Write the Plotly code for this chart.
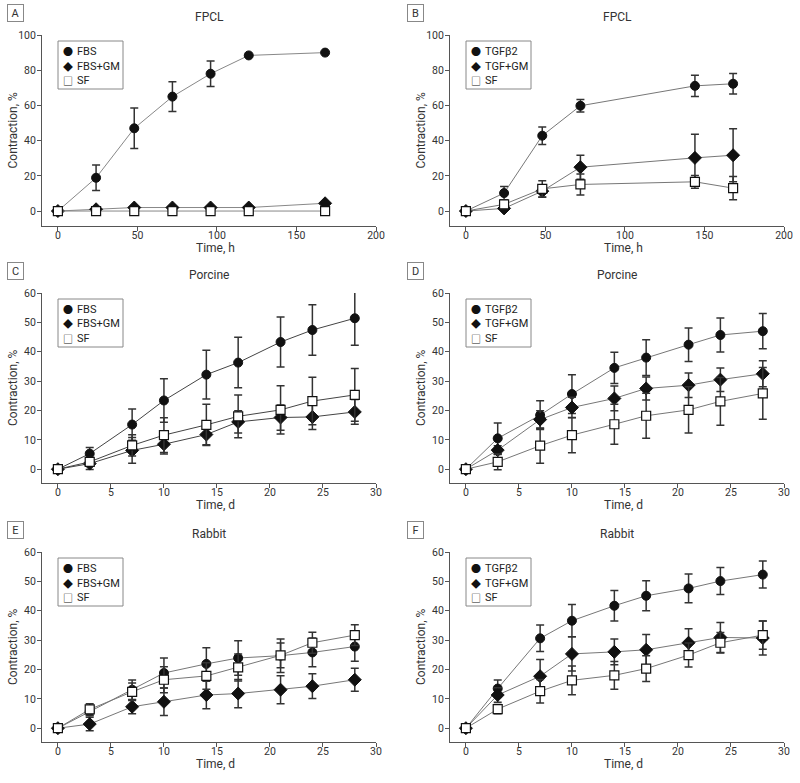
import plotly.graph_objects as go

FONT = "Roboto, Liberation Sans, DejaVu Sans, sans-serif"
GLYPH_FONT = "Noto Sans CJK JP, DejaVu Sans, sans-serif"

# ---------------- data ----------------
hours_A = [0, 24, 48, 72, 96, 120, 168]
A_fbs = [0, 18.9, 47, 65, 78, 88.4, 90]
A_fbs_err = [0, 7.3, 11.5, 8.5, 7.3, 0, 0]
A_fbsgm = [0, 1, 2, 2, 2, 2, 4.4]
A_sf = [0, 0, 0, 0, 0, 0, 0]

hours_B = [0, 24, 48, 72, 144, 168]
B_tgf = [0, 10.2, 42.8, 59.8, 71.1, 72.3]
B_tgf_err = [0, 3.8, 5, 3.5, 6, 5.8]
B_tgfgm = [0, 1.5, 11.3, 24.9, 30.2, 31.7]
B_tgfgm_err = [1.5, 1, 3.4, 6.8, 13.4, 15.1]
B_sf = [0, 3.8, 12.6, 15.1, 16.6, 13]
B_sf_err = [0, 2.5, 4.6, 6, 3.6, 6.6]

days = [0, 3, 7, 10, 14, 17, 21, 24, 28]

C_fbs = [0, 5.3, 15.2, 23.4, 32.2, 36.3, 43.3, 47.4, 51.4]
C_fbs_err = [1, 2.1, 5.3, 7.4, 8.3, 8.6, 8.5, 8.6, 9.2]
C_fbsgm = [0, 1.9, 6.4, 8.5, 11.8, 16.1, 17.6, 17.8, 19.5]
C_fbsgm_err = [0, 2, 4.4, 3.3, 3.5, 3.8, 4.3, 4.3, 4.2]
C_sf = [0, 2.5, 8.1, 11.6, 15.1, 18, 20.2, 23.2, 25.3]
C_sf_err = [0, 1.5, 3.6, 5.9, 7, 7.3, 8.2, 8.1, 9]

D_tgf = [0, 10.5, 18.4, 25.6, 34.5, 38, 42.4, 45.7, 47]
D_tgf_err = [0, 5.2, 4.9, 6.6, 5.3, 6.1, 5.7, 5.8, 6]
D_tgfgm = [0, 6.5, 16.9, 21, 24.1, 27.5, 28.6, 30.5, 32.5]
D_tgfgm_err = [0, 1.5, 3, 3.5, 4.2, 3.9, 4.2, 4, 4.4]
D_sf = [0, 2.5, 8, 11.6, 15.3, 18.2, 20.2, 23.1, 25.8]
D_sf_err = [1, 2.7, 6, 6, 6.8, 7.7, 7.9, 8.1, 8.8]

E_fbs = [0, 5.7, 13.1, 18.8, 21.9, 23.9, 24.7, 25.8, 27.8]
E_fbs_err = [0, 1.5, 3.3, 5.1, 5.5, 5.9, 5.7, 4.9, 5]
E_fbsgm = [0, 1.4, 7.3, 9, 11.3, 11.8, 13.1, 14.3, 16.5]
E_fbsgm_err = [0, 2.3, 2.4, 4.7, 4.7, 4.8, 4.8, 4.2, 3.9]
E_sf = [0, 6.4, 12.4, 16.5, 17.8, 20.7, 24.8, 29.1, 31.7]
E_sf_err = [1, 1.9, 3, 4.4, 4.5, 4.6, 4.2, 3.6, 3.5]

F_tgf = [0, 13.5, 30.6, 36.6, 41.7, 45.1, 47.6, 50.1, 52.3]
F_tgf_err = [0, 2.9, 4.5, 5.5, 5.2, 5.1, 4.9, 4.6, 4.6]
F_tgfgm = [0, 11.3, 17.7, 25.3, 26, 26.7, 29.1, 30.9, 30.7]
F_tgfgm_err = [0, 2.5, 5.7, 5.8, 4.4, 5.2, 4.8, 5.1, 5.8]
F_sf = [0, 6.5, 12.6, 16.3, 18, 20.3, 24.9, 29.1, 31.7]
F_sf_err = [1, 1.6, 4, 4.9, 4.7, 4.4, 4.1, 3.5, 4.8]

fbs_names = ["FBS", "FBS+GM", "SF"]
tgf_names = ["TGFβ2", "TGF+GM", "SF"]
panel_letters = ["A", "B", "C", "D", "E", "F"]
panel_titles = ["FPCL", "FPCL", "Porcine", "Porcine", "Rabbit", "Rabbit"]
x_titles = ["Time, h", "Time, h", "Time, d", "Time, d", "Time, d", "Time, d"]
y_title = "Contraction, %"

panels = [
    (hours_A, [(A_fbs, A_fbs_err), (A_fbsgm, None), (A_sf, None)], fbs_names),
    (hours_B, [(B_tgf, B_tgf_err), (B_tgfgm, B_tgfgm_err), (B_sf, B_sf_err)], tgf_names),
    (days, [(C_fbs, C_fbs_err), (C_fbsgm, C_fbsgm_err), (C_sf, C_sf_err)], fbs_names),
    (days, [(D_tgf, D_tgf_err), (D_tgfgm, D_tgfgm_err), (D_sf, D_sf_err)], tgf_names),
    (days, [(E_fbs, E_fbs_err), (E_fbsgm, E_fbsgm_err), (E_sf, E_sf_err)], fbs_names),
    (days, [(F_tgf, F_tgf_err), (F_tgfgm, F_tgfgm_err), (F_sf, F_sf_err)], tgf_names),
]

# ---------------- styles ----------------
W, H = 800, 783
markers = [
    dict(symbol="circle", size=9, color="#111111", line=dict(color="#111111", width=1)),
    dict(symbol="diamond", size=10, color="#111111", line=dict(color="#111111", width=1)),
    dict(symbol="square", size=9, color="white", line=dict(color="#111111", width=1.2)),
]
legend_glyphs = ["●", "◆", "□"]
line_colors = ["#888888", "#777777", "#444444", "#777777", "#777777", "#777777"]
AX_COLOR = "#555555"
TXT = "#333333"

col_px = [(42, 376), (450, 784)]
row_px = [(35, 226), (293, 483), (552, 742)]  # (top, bottom)
x_ranges = [[-10, 200], [-10, 200]] + [[-1.5, 30]] * 4
y_ranges = [[-8.5, 100], [-8.5, 100]] + [[-4.7, 60]] * 4
x_dticks = [50, 50, 5, 5, 5, 5]
y_dticks = [20, 20, 10, 10, 10, 10]

fig = go.Figure()
layout = dict(
    width=W, height=H,
    margin=dict(l=0, r=0, t=0, b=0, autoexpand=False),
    paper_bgcolor="white", plot_bgcolor="white",
    font=dict(family=FONT, size=11, color=TXT),
    showlegend=False,
)
annotations = []
shapes = []


def px(xp, yp):
    return xp / W, 1 - yp / H


for i, (xs, series, names) in enumerate(panels):
    r, c = divmod(i, 2)
    left, right = col_px[c]
    top, bottom = row_px[r]
    xa = "xaxis" if i == 0 else f"xaxis{i+1}"
    ya = "yaxis" if i == 0 else f"yaxis{i+1}"
    xr = "x" if i == 0 else f"x{i+1}"
    yr = "y" if i == 0 else f"y{i+1}"

    layout[xa] = dict(
        domain=[left / W, right / W], anchor=yr, range=x_ranges[i],
        tick0=0, dtick=x_dticks[i], showgrid=False, zeroline=False,
        showline=True, linecolor=AX_COLOR, linewidth=1,
        ticks="outside", ticklen=4, tickcolor=AX_COLOR, tickwidth=1,
        ticklabelstandoff=-5,
        tickfont=dict(size=10.5, color=TXT), fixedrange=True,
    )
    layout[ya] = dict(
        domain=[1 - bottom / H, 1 - top / H], anchor=xr, range=y_ranges[i],
        tick0=0, dtick=y_dticks[i], showgrid=False, zeroline=False,
        showline=True, linecolor=AX_COLOR, linewidth=1,
        ticks="outside", ticklen=4, tickcolor=AX_COLOR, tickwidth=1,
        ticklabelstandoff=-1,
        tickfont=dict(size=10.5, color=TXT), fixedrange=True,
    )

    for k, (ys, err) in enumerate(series):
        tr = dict(
            x=xs, y=ys, mode="lines+markers", xaxis=xr, yaxis=yr, name=names[k],
            line=dict(color=line_colors[i], width=1), marker=markers[k],
            showlegend=False, hoverinfo="x+y+name", cliponaxis=False,
        )
        if err is not None:
            tr["error_y"] = dict(type="data", array=err, visible=True,
                                 color="#333333", thickness=1.5, width=4)
        fig.add_trace(go.Scatter(**tr))

    # axis titles
    ax, ay = px((left + right) / 2 + 6, bottom + 22)
    annotations.append(dict(
        text=x_titles[i], xref="paper", yref="paper", x=ax, y=ay,
        xanchor="center", yanchor="middle", showarrow=False,
        font=dict(size=12, color=TXT),
    ))
    ax, ay = px(left - 29, (top + bottom) / 2)
    annotations.append(dict(
        text=y_title, xref="paper", yref="paper", x=ax, y=ay,
        xanchor="center", yanchor="middle", showarrow=False, textangle=-90,
        font=dict(size=12, color=TXT),
    ))

    # legend box (symbol key)
    x0, y0 = px(left + 16, top + 6)
    x1, y1 = px(left + 81, top + 54)
    shapes.append(dict(type="rect", xref="paper", yref="paper",
                       x0=x0, y0=y0, x1=x1, y1=y1,
                       line=dict(color="#888888", width=1), fillcolor="white",
                       layer="above"))
    for k, nm in enumerate(names):
        row_y = top + 16.5 + 14.5 * k
        gx, gy = px(left + 26, row_y)
        annotations.append(dict(
            text=legend_glyphs[k], xref="paper", yref="paper", x=gx, y=gy,
            xanchor="center", yanchor="middle", showarrow=False,
            font=dict(size=10, family=GLYPH_FONT, color="#111111"),
        ))
        tx, ty = px(left + 33, row_y)
        annotations.append(dict(
            text=nm, xref="paper", yref="paper", x=tx, y=ty,
            xanchor="left", yanchor="middle", showarrow=False,
            font=dict(size=11, color="#222222"),
        ))

    # panel title
    ax, ay = px((left + right) / 2, top - 18)
    annotations.append(dict(
        text=panel_titles[i], xref="paper", yref="paper", x=ax, y=ay,
        xanchor="center", yanchor="middle", showarrow=False,
        font=dict(size=12, color=TXT),
    ))
    # panel letter in box
    ax, ay = px(15 if c == 0 else 415, top - 22)
    annotations.append(dict(
        text=panel_letters[i], xref="paper", yref="paper", x=ax, y=ay,
        xanchor="center", yanchor="middle", showarrow=False,
        font=dict(size=11, color=TXT),
        bordercolor="#888888", borderwidth=1, borderpad=2, bgcolor="white",
        width=11, height=12,
    ))

layout["annotations"] = annotations
layout["shapes"] = shapes
fig.update_layout(**layout)
fig.write_html("out.html", config={"displayModeBar": False},
               post_script="document.body.style.margin='0';")
